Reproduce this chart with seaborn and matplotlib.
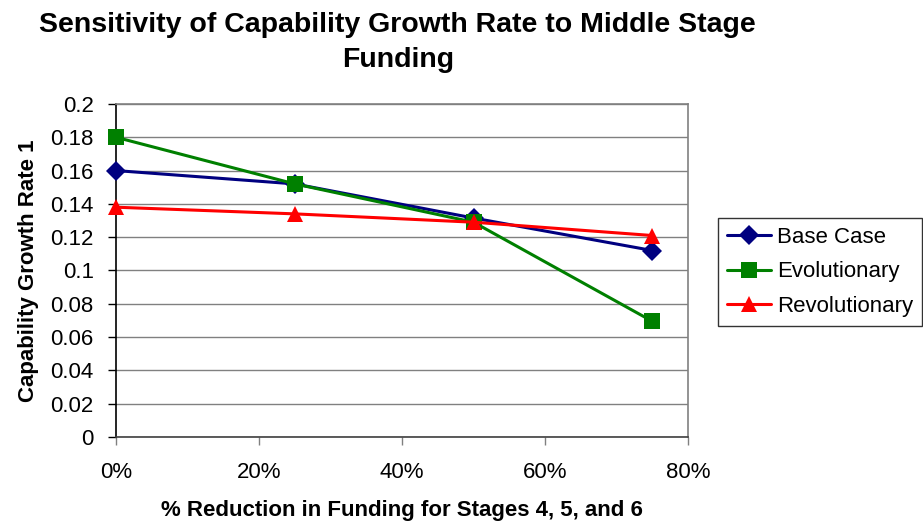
import numpy as np
import pandas as pd
import matplotlib
matplotlib.use("Agg")
import matplotlib.pyplot as plt
import seaborn as sns

# data
reduction = [0, 25, 50, 75]
base_case = [0.160, 0.152, 0.1315, 0.112]
evolutionary = [0.180, 0.152, 0.129, 0.0695]
revolutionary = [0.138, 0.134, 0.129, 0.121]

df = pd.DataFrame({
    "reduction": reduction * 3,
    "rate": base_case + evolutionary + revolutionary,
    "series": ["Base Case"] * 4 + ["Evolutionary"] * 4 + ["Revolutionary"] * 4,
})

sns.set_style("white")
plt.rcParams["font.family"] = ["Liberation Sans", "DejaVu Sans"]
plt.rcParams["text.color"] = "black"
plt.rcParams["axes.labelcolor"] = "black"
plt.rcParams["xtick.color"] = "black"
plt.rcParams["ytick.color"] = "black"

fig = plt.figure(figsize=(9.23, 5.27), dpi=100)
ax = fig.add_axes([0.1257, 0.1708, 0.6197, 0.6319])

palette = {"Base Case": "#000080", "Evolutionary": "#008000", "Revolutionary": "#ff0000"}
markers = {"Base Case": "D", "Evolutionary": "s", "Revolutionary": "^"}
sizes = {"Base Case": 10, "Evolutionary": 11, "Revolutionary": 12}

for name, grp in df.groupby("series", sort=False):
    sns.lineplot(data=grp, x="reduction", y="rate", ax=ax, color=palette[name],
                 marker=markers[name], markersize=sizes[name], markeredgewidth=0,
                 linewidth=2.2, label=name, clip_on=False, zorder=3)

ax.set_xlim(0, 80)
ax.set_ylim(0, 0.2)
ax.set_xticks([0, 20, 40, 60, 80])
ax.set_xticklabels(["0%", "20%", "40%", "60%", "80%"])
ax.set_yticks(np.arange(0, 0.201, 0.02))
ax.set_yticklabels(["0", "0.02", "0.04", "0.06", "0.08", "0.1", "0.12",
                    "0.14", "0.16", "0.18", "0.2"])
ax.yaxis.grid(True, color="#808080", linewidth=1)
ax.set_axisbelow(True)

for s in ["top", "right"]:
    ax.spines[s].set_color("#808080")
    ax.spines[s].set_linewidth(1.2)
ax.spines["left"].set_color("black")
ax.spines["bottom"].set_color("#404040")
for s in ["left", "bottom"]:
    ax.spines[s].set_linewidth(1.2)

ax.tick_params(axis="both", which="major", labelsize=16, length=6, width=1,
               direction="out", left=True, bottom=True)
ax.tick_params(axis="y", pad=10)
ax.tick_params(axis="x", color="#808080", pad=12)

ax.set_xlabel("% Reduction in Funding for Stages 4, 5, and 6", fontsize=16,
              fontweight="bold", labelpad=12)
ax.set_ylabel("Capability Growth Rate 1", fontsize=16, fontweight="bold", labelpad=8)
fig.suptitle("Sensitivity of Capability Growth Rate to Middle Stage\nFunding",
             x=0.431, y=0.978, fontsize=20.5, fontweight="bold", linespacing=1.45)

leg = ax.legend(loc="center left", bbox_to_anchor=(0.778, 0.484),
                bbox_transform=fig.transFigure, fontsize=16, frameon=True,
                fancybox=False, edgecolor="black", handlelength=2.0,
                borderpad=0.4, labelspacing=0.62, handletextpad=0.25,
                borderaxespad=0)
leg.get_frame().set_linewidth(1)

fig.savefig("out.png", dpi=100)
